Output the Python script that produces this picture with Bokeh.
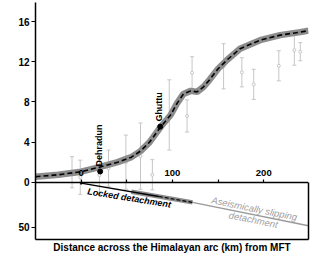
import numpy as np
from bokeh.plotting import figure
from bokeh.models import (Range1d, LinearAxis, FixedTicker, Label, ColumnDataSource,
                          Whisker, TeeHead)
from bokeh.embed import file_html
from bokeh.resources import INLINE
from bokeh.core.properties import value

# ---------------- data ----------------
# best-fit velocity profile (km from MFT, mm/yr)
curve_km = [-50, -25, 0, 20, 40, 55, 65, 75, 87, 98, 105, 112, 120, 127, 134, 141,
            150, 160, 174, 196, 218, 240, 249]
curve_v = [0.55, 0.75, 1.05, 1.5, 2.0, 2.5, 3.1, 4.0, 5.5, 6.7, 7.85, 8.8, 9.1, 9.0,
           9.5, 10.25, 11.3, 12.2, 13.3, 14.15, 14.65, 14.95, 15.1]

# GPS velocities with error bars
gps_km = [-10, -1, 20, 30, 49, 65, 78, 96.5, 116, 121.5, 156, 176, 189, 216.5, 233.5, 240]
gps_v = [1.0, 0.5, 0.7, 1.4, 2.0, 2.6, 0.75, 6.7, 6.6, 10.9, 11.55, 10.95, 9.75, 11.6,
         13.15, 13.0]
gps_err = [1.55, 1.7, 1.9, 1.8, 2.7, 3.3, 1.5, 3.5, 1.6, 1.6, 2.25, 1.45, 1.5, 1.5, 1.5, 0.9]

# named stations
stations = ["Dehradun", "Ghuttu"]
station_km = [20.8, 86.6]
station_v = [1.07, 5.54]

# detachment geometry (km from MFT, depth km)
mft_km = [0, 0]
mft_depth = [0, 2.5]
locked_km = [0, 85]
locked_depth = [1.0, 15.8]
locked_band_km = [55, 122]
locked_band_depth = [10.6, 22.3]
locked_dash_km = [85, 122]
locked_dash_depth = [15.8, 22.3]
aseismic_km = [122, 249]
aseismic_depth = [22.3, 48.3]

x_ticks = [0, 100, 200]
x_minor_ticks = [50, 150]
v_ticks = [0, 4, 8, 12, 16]
depth_ticks = [50]

X_START, X_END = -50, 249
V_TOP, V_BOTTOM = 17.9, -5.7
DEPTH_BOTTOM = 63.5

FONT = "Liberation Sans"

# ---------------- figure ----------------
p = figure(width=312, height=255, output_backend="svg", toolbar_location=None,
           x_range=Range1d(X_START, X_END), y_range=Range1d(V_BOTTOM, V_TOP),
           x_axis_location=None, y_axis_location=None,
           min_border_left=35, min_border_right=4, min_border_top=2, min_border_bottom=15)
p.outline_line_color = None
p.grid.visible = False
p.background_fill_color = "white"
p.border_fill_color = "white"

depth_top = DEPTH_BOTTOM * V_TOP / V_BOTTOM
p.extra_y_ranges = {"depth": Range1d(start=DEPTH_BOTTOM, end=depth_top)}

# left axis: velocity ticks + depth tick (shared zero)
depth_as_v = [d * V_BOTTOM / DEPTH_BOTTOM for d in depth_ticks]
yaxis = LinearAxis(ticker=FixedTicker(ticks=v_ticks + depth_as_v, minor_ticks=[]),
                   major_label_overrides={dv: str(d) for dv, d in zip(depth_as_v, depth_ticks)})
p.add_layout(yaxis, "left")

# bottom frame line with the x title (closest to frame)
xbottom = LinearAxis(ticker=FixedTicker(ticks=[], minor_ticks=[]),
                     axis_label="Distance across the Himalayan arc (km) from MFT")
p.add_layout(xbottom, "below")

# x axis at velocity zero, labels above the line
xaxis = LinearAxis(fixed_location=0, ticker=FixedTicker(ticks=x_ticks, minor_ticks=x_minor_ticks))
p.add_layout(xaxis, "below")

# right border of depth box
rborder = LinearAxis(y_range_name="depth", bounds=(0, DEPTH_BOTTOM),
                     ticker=FixedTicker(ticks=[], minor_ticks=[]))
p.add_layout(rborder, "right")

for ax in (yaxis, xbottom, xaxis, rborder):
    ax.axis_line_color = "black"
    ax.axis_line_width = 1.5
    ax.major_tick_line_color = "black"
    ax.minor_tick_line_color = "black"
    ax.major_tick_line_width = 1.2
    ax.minor_tick_line_width = 1.2
    ax.major_label_text_font = FONT
    ax.major_label_text_font_style = "bold"
    ax.major_label_text_color = "black"
    ax.axis_label_text_font = FONT
    ax.axis_label_text_font_style = "bold"
    ax.axis_label_text_color = "black"

yaxis.major_tick_out = 4
yaxis.major_tick_in = 0
yaxis.major_label_standoff = 2
yaxis.major_label_text_font_size = "10px"

for ax in (xbottom, rborder):
    ax.major_tick_out = 0
    ax.major_tick_in = 0
    ax.minor_tick_out = 0
    ax.minor_tick_in = 0
    ax.major_label_standoff = 0

xbottom.axis_label_standoff = 2
xbottom.axis_label_text_font_size = "10px"

xaxis.major_tick_out = 0
xaxis.major_tick_in = 3
xaxis.minor_tick_out = 0
xaxis.minor_tick_in = 3
xaxis.major_label_standoff = -12
xaxis.major_label_text_font_size = "9.5px"

# y titles
p.add_layout(Label(x=X_START, y=9.9, x_offset=-27, text="Velocity (mm/year) wrt India",
                   angle=np.pi / 2, text_align="center", text_baseline="middle",
                   text_font=FONT, text_font_style="bold", text_font_size="10.5px",
                   text_color="black"))
p.add_layout(Label(x=X_START, y=28.7, y_range_name="depth", x_offset=-27, text="Depth (km)",
                   angle=np.pi / 2, text_align="center", text_baseline="middle",
                   text_font=FONT, text_font_style="bold", text_font_size="10.5px",
                   text_color="black"))

# ---------------- GPS error bars ----------------
gv = np.array(gps_v)
ge = np.array(gps_err)
src = ColumnDataSource(dict(km=gps_km, v=gps_v, lower=gv - ge, upper=gv + ge))
bar_col = "#c6c6c6"
p.add_layout(Whisker(source=src, base="km", lower="lower", upper="upper",
                     line_color=bar_col, line_width=1,
                     upper_head=TeeHead(size=4, line_color=bar_col, line_width=1),
                     lower_head=TeeHead(size=4, line_color=bar_col, line_width=1)))
p.scatter("km", "v", source=src, marker="circle", size=3, fill_color="white",
          line_color=bar_col, line_width=1)

# ---------------- velocity curve ----------------
p.line(curve_km, curve_v, line_width=6.5, color="#8c8c8c")
p.line(curve_km, curve_v, line_width=1.6, color="black", line_dash="5 3")

# stations
p.scatter(station_km, station_v, marker="circle", size=5, color="black")
p.text(x=station_km, y=station_v, text=stations, angle=np.pi / 2, x_offset=-1.5, y_offset=-5,
       text_align="left", text_baseline="middle", text_font=value(FONT),
       text_font_style="bold", text_font_size="9px", text_color="black")

# ---------------- detachment ----------------
p.line(aseismic_km, aseismic_depth, y_range_name="depth", line_width=1.5, color="#9a9a9a")
p.line(locked_band_km, locked_band_depth, y_range_name="depth", line_width=4.5, color="#8c8c8c")
p.line(locked_km, locked_depth, y_range_name="depth", line_width=1.4, color="black")
p.line(locked_dash_km, locked_dash_depth, y_range_name="depth", line_width=1.2, color="black",
       line_dash="4 2")
p.line(mft_km, mft_depth, y_range_name="depth", line_width=2, color="black")

p.add_layout(Label(x=52.6, y=17.5, y_range_name="depth", text="Locked detachment",
                   angle=-0.16, text_align="center", text_baseline="middle",
                   text_font=FONT, text_font_style="bold italic", text_font_size="9px",
                   text_color="black"))
p.add_layout(Label(x=189.7, y=29.2, y_range_name="depth", text="Aseismically slipping",
                   angle=-0.2, text_align="center", text_baseline="middle",
                   text_font=FONT, text_font_style="italic", text_font_size="9.5px",
                   text_color="#a0a0a0"))
p.add_layout(Label(x=188.6, y=41.5, y_range_name="depth", text="detachment",
                   angle=-0.2, text_align="center", text_baseline="middle",
                   text_font=FONT, text_font_style="italic", text_font_size="9.5px",
                   text_color="#a0a0a0"))

open("out.html", "w").write(file_html(p, INLINE))
